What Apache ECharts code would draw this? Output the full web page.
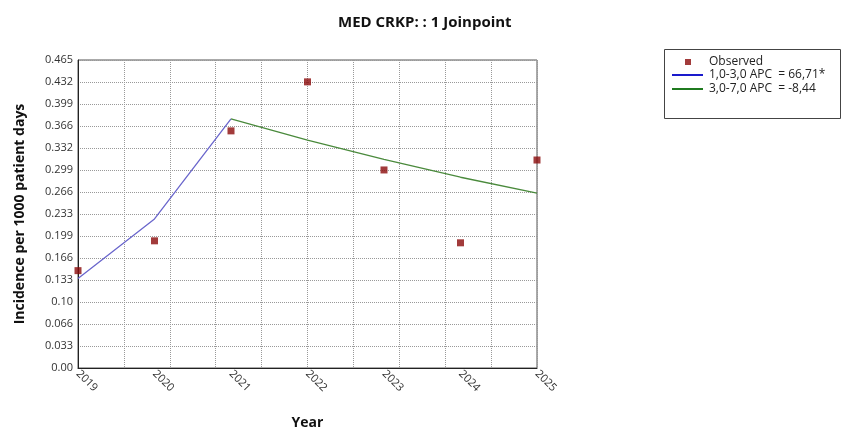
<!DOCTYPE html>
<html>
<head>
<meta charset="utf-8">
<script src="https://cdn.jsdelivr.net/npm/echarts@6/dist/echarts.min.js"></script>
<style>html,body{margin:0;padding:0;background:#fff}#c{width:843px;height:432px}</style>
</head>
<body>
<div id="c"></div>
<script>
var years = ['2019', '2020', '2021', '2022', '2023', '2024', '2025'];
var observed = [0.147, 0.192, 0.358, 0.432, 0.299, 0.189, 0.314];
var seg1Years = [1, 2, 3];
var seg1Fit = [0.135, 0.225, 0.376];
var seg2Years = [3, 4, 5, 6, 7];
var seg2Fit = [0.376, 0.344, 0.315, 0.288, 0.264];
var yTickLabels = ['0.00', '0.033', '0.066', '0.10', '0.133', '0.166', '0.199', '0.233', '0.266', '0.299', '0.332', '0.366', '0.399', '0.432', '0.465'];
var legendNames = ['Observed', '1,0-3,0 APC  = 66,71*', '3,0-7,0 APC  = -8,44'];

var yMax = 0.465;
var yStep = yMax / (yTickLabels.length - 1);
var font = '"Open Sans", "Noto Sans", sans-serif';

var chart = echarts.init(document.getElementById('c'), null, {renderer: 'canvas'});
chart.setOption({
  animation: false,
  backgroundColor: '#fff',
  textStyle: {fontFamily: font},
  title: {
    text: 'MED CRKP: : 1 Joinpoint',
    left: 333, top: 10,
    textStyle: {fontSize: 15, fontWeight: 'bold', color: '#111', fontFamily: font}
  },
  graphic: [{
    type: 'rect', left: 664, top: 49,
    shape: {width: 176, height: 69},
    style: {fill: '#fff', stroke: '#444', lineWidth: 1},
    z: -1
  }],
  legend: [{
    orient: 'vertical', left: 680, top: 50,
    itemWidth: 6, itemHeight: 6, itemGap: 0,
    textStyle: {fontSize: 12, color: '#222', lineHeight: 14, fontFamily: font, padding: [0, 0, 0, 13]},
    data: [
      {name: legendNames[0], icon: 'rect', itemStyle: {color: '#8b0a0a'}}
    ]
  }, {
    orient: 'vertical', left: 667, top: 63,
    itemWidth: 31, itemHeight: 2, itemGap: 0,
    textStyle: {fontSize: 12, color: '#222', lineHeight: 14, fontFamily: font, padding: [0, 0, 0, 1]},
    data: [
      {name: legendNames[1], icon: 'rect', itemStyle: {color: '#1a1acc'}},
      {name: legendNames[2], icon: 'rect', itemStyle: {color: '#1f7a1f'}}
    ]
  }],
  grid: {left: 78, right: 306, top: 60, bottom: 64, outerBoundsMode: 'none', containLabel: false,
         show: true, borderColor: '#555', borderWidth: 1},
  xAxis: [{
    type: 'value', min: 1, max: 7, interval: 1,
    name: 'Year', nameLocation: 'middle', nameGap: 48,
    nameTextStyle: {fontSize: 14, fontWeight: 'bold', color: '#111'},
    axisLine: {show: true, lineStyle: {color: '#222', width: 1}},
    axisTick: {show: false},
    splitLine: {show: false},
    axisLabel: {
      rotate: -45, fontSize: 11, color: '#333', margin: 4,
      formatter: function (v) { return years[Math.round(v) - 1] || ''; }
    }
  }, {
    type: 'value', min: 1, max: 7, interval: 0.6, position: 'bottom',
    axisLine: {show: false}, axisTick: {show: false}, axisLabel: {show: false},
    splitLine: {show: true, lineStyle: {color: '#999', type: 'dotted', width: 1}}
  }],
  yAxis: {
    type: 'value', min: 0, max: yMax, interval: yStep,
    name: 'Incidence per 1000 patient days', nameLocation: 'middle', nameGap: 51,
    nameTextStyle: {fontSize: 14, fontWeight: 'bold', color: '#111'},
    axisLine: {show: true, lineStyle: {color: '#222', width: 1}},
    axisTick: {show: false},
    splitLine: {show: true, lineStyle: {color: '#999', type: 'dotted', width: 1}},
    axisLabel: {
      fontSize: 11, color: '#333', margin: 5,
      formatter: function (v) { return yTickLabels[Math.round(v / yStep)]; }
    }
  },
  series: [{
    name: legendNames[1], type: 'line', xAxisIndex: 0, symbol: 'none',
    lineStyle: {color: '#6a66cc', width: 1.3}, itemStyle: {color: '#6a66cc'},
    data: seg1Years.map(function (x, i) { return [x, seg1Fit[i]]; }), z: 3
  }, {
    name: legendNames[2], type: 'line', xAxisIndex: 0, symbol: 'none',
    lineStyle: {color: '#4a8a3c', width: 1.3}, itemStyle: {color: '#4a8a3c'},
    data: seg2Years.map(function (x, i) { return [x, seg2Fit[i]]; }), z: 3
  }, {
    name: legendNames[0], type: 'scatter', xAxisIndex: 0, symbol: 'rect', symbolSize: 7,
    itemStyle: {color: '#8b0a0a'},
    data: observed.map(function (v, i) { return [i + 1, v]; }), z: 4
  }]
});
</script>
</body>
</html>
